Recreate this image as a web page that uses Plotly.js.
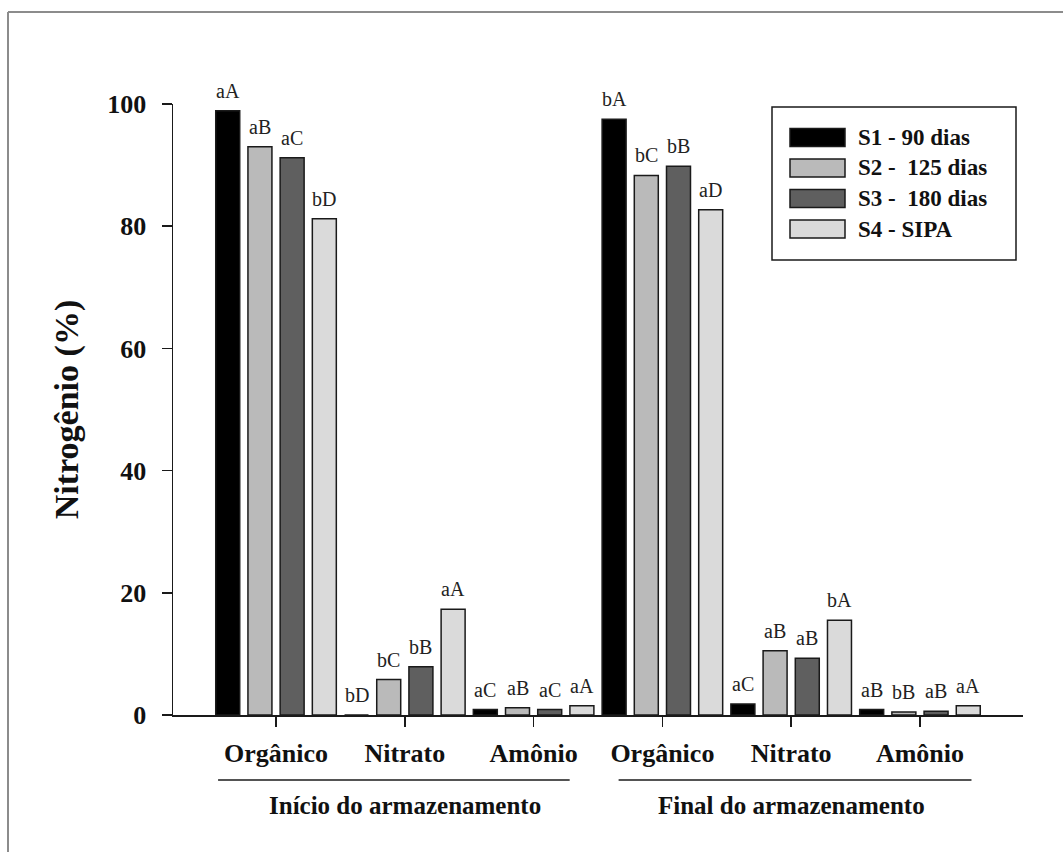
<!DOCTYPE html>
<html><head><meta charset="utf-8">
<script src="https://cdn.plot.ly/plotly-3.0.1.min.js"></script>
<style>html,body{margin:0;padding:0;background:#fff}#chart{width:1063px;height:852px}</style>
</head><body><div id="chart"></div>
<script>
// ---- data ----
const groups = ["Início do armazenamento", "Final do armazenamento"];
const fractions = ["Orgânico", "Nitrato", "Amônio"];
const seriesNames = ["S1 - 90 dias", "S2 -\u00A0 125 dias", "S3 -\u00A0 180 dias", "S4 - SIPA"];
const s1 = [98.9, 0.0, 0.9, 97.5, 1.8, 0.9];
const s2 = [93.0, 5.8, 1.2, 88.3, 10.5, 0.5];
const s3 = [91.2, 7.9, 0.9, 89.8, 9.3, 0.6];
const s4 = [81.2, 17.3, 1.5, 82.7, 15.5, 1.5];
const s1Letters = ["aA", "bD", "aC", "bA", "aC", "aB"];
const s2Letters = ["aB", "bC", "aB", "bC", "aB", "bB"];
const s3Letters = ["aC", "bB", "aC", "bB", "aB", "aB"];
const s4Letters = ["bD", "aA", "aA", "aD", "bA", "aA"];
const yTickVals = [0, 20, 40, 60, 80, 100];

// ---- styling ----
const FONT = "Liberation Serif, Times New Roman, serif";
const colors = ["#000000", "#bababa", "#5f5f5f", "#dadada"];
const values = [s1, s2, s3, s4];
const letters = [s1Letters, s2Letters, s3Letters, s4Letters];

const cats = [];
groups.forEach(() => fractions.forEach(f => cats.push(f)));
const xPos = cats.map((_, i) => i);

const nSeries = values.length;
const BARGAP = 0, GROUPGAP = 0.255;

const traces = values.map((v, j) => ({
  type: "bar",
  name: seriesNames[j],
  x: xPos,
  y: v,
  marker: {color: colors[j], line: {color: "#1a1a1a", width: 1.5}},
  showlegend: false,
  hoverinfo: "x+y+name"
}));

// pixel -> paper helpers (plot area 173..1023 x 104..715)
const L = 173, R = 1023, T = 104, B = 715;
const px = x => (x - L) / (R - L);
const py = y => (B - y) / (B - T);

const shapes = [];
const annotations = [];

// significance letters above each bar (data coordinates via the axes)
const slot = (1 - BARGAP) / nSeries;
values.forEach((v, j) => {
  v.forEach((val, i) => {
    annotations.push({xref: "x", yref: "y", x: xPos[i] + (j - (nSeries - 1) / 2) * slot, y: val,
      text: letters[j][i], showarrow: false, xanchor: "center", yanchor: "bottom", yshift: 7,
      font: {family: FONT, size: 20, color: "#222"}});
  });
});

// outer frame (left and top edges visible)
shapes.push({type: "line", xref: "paper", yref: "paper", x0: px(8), x1: px(8), y0: py(12), y1: py(860), line: {color: "#8c8c8c", width: 2}});
shapes.push({type: "line", xref: "paper", yref: "paper", x0: px(8), x1: px(1070), y0: py(12), y1: py(12), line: {color: "#8c8c8c", width: 2}});
// x-axis stub left of y axis
shapes.push({type: "line", xref: "paper", yref: "paper", x0: px(163), x1: px(173), y0: 0, y1: 0, line: {color: "#1a1a1a", width: 1.5}});

// group underlines and titles
const groupSpans = [[-0.45, 2.28], [2.66, 5.40]];
groups.forEach((g, k) => {
  shapes.push({type: "line", xref: "x", yref: "paper", x0: groupSpans[k][0], x1: groupSpans[k][1], y0: py(780), y1: py(780), line: {color: "#1a1a1a", width: 1.5}});
  annotations.push({xref: "x", yref: "paper", x: 1 + 3 * k, y: py(805), text: g, showarrow: false,
    xanchor: "center", yanchor: "middle", font: {family: FONT, size: 25, weight: "bold", color: "#111"}});
});

// legend box
shapes.push({type: "rect", xref: "paper", yref: "paper", x0: px(772), x1: px(1016), y0: py(107), y1: py(260), line: {color: "#1a1a1a", width: 1.5}, fillcolor: "#fff"});
seriesNames.forEach((n, j) => {
  const cy = 137.5 + j * 30.5;
  shapes.push({type: "rect", xref: "paper", yref: "paper", x0: px(790), x1: px(845), y0: py(cy - 9), y1: py(cy + 9), fillcolor: colors[j], line: {color: "#1a1a1a", width: 1.5}});
  annotations.push({xref: "paper", yref: "paper", x: px(856), y: py(cy), text: n, showarrow: false,
    xanchor: "left", yanchor: "middle", font: {family: FONT, size: 23, weight: "bold", color: "#111"}});
});

const layout = {
  width: 1063, height: 852,
  margin: {l: L, r: 1063 - R, t: T, b: 852 - B, pad: 0},
  paper_bgcolor: "#fff", plot_bgcolor: "#fff",
  font: {family: FONT, color: "#111"},
  barmode: "group", bargap: BARGAP, bargroupgap: GROUPGAP,
  showlegend: false,
  xaxis: {
    range: [-0.8, 5.8], tickvals: xPos, ticktext: cats,
    showline: true, linecolor: "#1a1a1a", linewidth: 1.5,
    ticks: "outside", ticklen: 10, tickwidth: 1.5, tickcolor: "#1a1a1a",
    ticklabelstandoff: 4,
    tickfont: {family: FONT, size: 26, weight: "bold", color: "#111"},
    showgrid: false, zeroline: false
  },
  yaxis: {
    range: [0, 100], tickvals: yTickVals,
    showline: true, linecolor: "#1a1a1a", linewidth: 1.5,
    ticks: "outside", ticklen: 10, tickwidth: 1.5, tickcolor: "#1a1a1a",
    ticklabelstandoff: 10,
    tickfont: {family: FONT, size: 26, weight: "bold", color: "#111"},
    showgrid: false, zeroline: false,
    title: {text: "Nitrogênio (%)", font: {family: FONT, size: 34, weight: "bold", color: "#111"}, standoff: 18}
  },
  shapes: shapes,
  annotations: annotations
};

Plotly.newPlot("chart", traces, layout, {displayModeBar: false, staticPlot: true});
</script>
</body></html>
